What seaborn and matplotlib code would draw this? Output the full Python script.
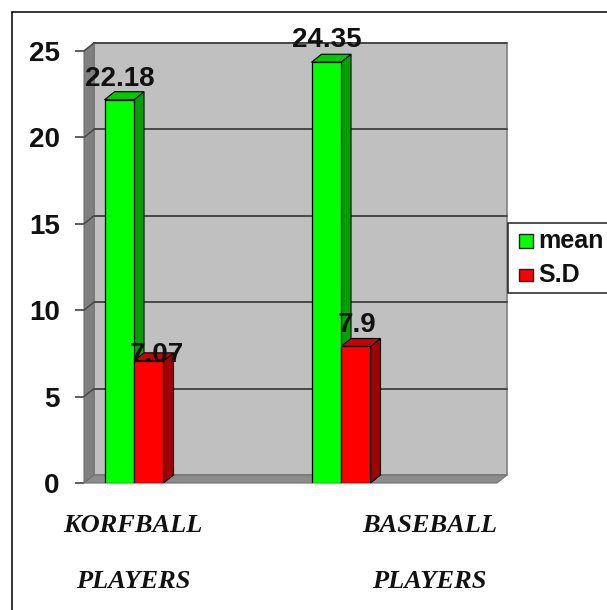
import matplotlib
matplotlib.use("Agg")
import matplotlib.pyplot as plt
from matplotlib.lines import Line2D
from matplotlib.patches import Polygon, Rectangle
from matplotlib.transforms import ScaledTranslation
import pandas as pd
import seaborn as sns

groups = ["KORFBALL", "BASEBALL"]
mean_values = [22.18, 24.35]
sd_values = [7.07, 7.9]
mean_labels = ["22.18", "24.35"]
sd_labels = ["7.07", "7.9"]
y_ticks = [0, 5, 10, 15, 20, 25]

W, H = 607, 610
DEPTH_X, DEPTH_Y = 10, 8
FILL = {"mean": "#00ff00", "S.D": "#ff0000"}
SIDE = {"mean": "#00a000", "S.D": "#a00000"}
TOP = {"mean": "#00c800", "S.D": "#c80000"}
# Nudges (pixels) of the value labels away from the bar tops
LABEL_NUDGE = [(1, 8), (1, 9), (8, -7), (1, 8)]

sns.set_theme(style="white", rc={"font.family": ["Liberation Sans", "DejaVu Sans"]})
fig = plt.figure(figsize=(W / 100, H / 100), dpi=100)
ax = fig.add_axes([84 / W, 1 - 483 / H, (497 - 84) / W, (483 - 51) / H])

table = pd.DataFrame({
    "group": groups * 2,
    "series": ["mean"] * 2 + ["S.D"] * 2,
    "value": mean_values + sd_values,
})
sns.barplot(data=table, x="group", y="value", hue="series", palette=FILL,
            width=0.285, gap=0, dodge=True, legend=False, ax=ax,
            edgecolor="black", linewidth=0.9, saturation=1, zorder=5)

ax.set_xlim(-50 / 207, 363 / 207)
ax.set_ylim(0, 25)
ax.set_xlabel("")
ax.set_ylabel("")
ax.patch.set_alpha(0)
for spine in ax.spines.values():
    spine.set_visible(False)
ax.set_xticks([])
ax.set_yticks(y_ticks)
ax.set_yticklabels([str(t) for t in y_ticks], fontsize=20, fontweight="bold", color="#111111")
ax.tick_params(axis="y", length=6.5, width=1.1, color="#333333", pad=11, left=True)

px = 1 / 100
back = ax.transData + ScaledTranslation(DEPTH_X * px, DEPTH_Y * px, fig.dpi_scale_trans)
front = ax.transData
xmin, xmax = ax.get_xlim()


def add_face(points, color, edge, lw, z):
    # Each vertex is (x, y, on_back_plane), projected to display space
    xy = [(back if on_back else front).transform((x, y)) for x, y, on_back in points]
    ax.add_patch(Polygon(xy, closed=True, transform=None, facecolor=color,
                         edgecolor=edge, lw=lw, clip_on=False, zorder=z))


# Back wall, floor and left wall of the pseudo-3D box
ax.add_patch(Rectangle((xmin, 0), xmax - xmin, 25, transform=back, facecolor="#c0c0c0",
                       edgecolor="#808080", lw=1.2, clip_on=False, zorder=1))
add_face([(xmin, 0, False), (xmin, 25, False), (xmin, 25, True), (xmin, 0, True)],
         "#808080", "#707070", 0.8, 2)
add_face([(xmin, 0, False), (xmax, 0, False), (xmax, 0, True), (xmin, 0, True)],
         "#8c8c8c", "#707070", 0.8, 2)

# Gridlines on the back wall, joined to the ticks along the left wall
for t in y_ticks[1:]:
    ax.plot([xmin, xmax], [t, t], transform=back, color="#484848", lw=1.4, zorder=3, clip_on=False)
    a = front.transform((xmin, t))
    b = back.transform((xmin, t))
    ax.plot([a[0], b[0]], [a[1], b[1]], transform=None, color="#484848", lw=1.1, zorder=3, clip_on=False)

# Side and top faces for each bar, extruded from the seaborn rectangles
bars = [b for b in ax.patches if b.get_zorder() == 5 and b.get_height() > 0]
series_names = ["mean"] * 2 + ["S.D"] * 2
all_labels = mean_labels + sd_labels
for bar, name, label, nudge in zip(bars, series_names, all_labels, LABEL_NUDGE):
    x0, x1 = bar.get_x(), bar.get_x() + bar.get_width()
    top = bar.get_height()
    z = 4 if name == "mean" else 4.5
    add_face([(x1, 0, False), (x1, top, False), (x1, top, True), (x1, 0, True)], SIDE[name], "black", 0.8, z)
    add_face([(x0, top, False), (x1, top, False), (x1, top, True), (x0, top, True)], TOP[name], "black", 0.8, z)
    shift = ScaledTranslation(nudge[0] * px, nudge[1] * px, fig.dpi_scale_trans)
    ax.text((x0 + x1) / 2, top, label, transform=ax.transData + shift,
            ha="center", va="bottom", fontsize=20, fontweight="bold", color="#111111", zorder=8)


def fx(p):
    return p / W


def fy(p):
    return 1 - p / H


# Legend box
fig.add_artist(Rectangle((fx(508), fy(293)), 100 / W, 70 / H, transform=fig.transFigure,
                         facecolor="white", edgecolor="#222222", lw=1.1))
for name, y, side in (("mean", 240.5, 14), ("S.D", 275, 12)):
    fig.add_artist(Rectangle((fx(518.5), fy(y + side / 2)), 14 / W, side / H, transform=fig.transFigure,
                             facecolor=FILL[name], edgecolor="#222222", lw=1.0))
    fig.text(fx(538), fy(y), name, fontsize=18, fontweight="bold", va="center", ha="left", color="#111111")

# Two-line category captions in a hand-lettered style
for text, x, y in (("KORFBALL", 133, 526), ("PLAYERS", 133, 582), ("BASEBALL", 430, 526), ("PLAYERS", 429, 582)):
    fig.text(fx(x), fy(y), text, fontsize=19, family="Liberation Serif", style="italic",
             fontweight="bold", ha="center", va="center", color="#111111")

# Frame along the top and left edges only
fig.add_artist(Line2D([fx(11.5), fx(11.5)], [0, fy(11.5)], transform=fig.transFigure, color="black", lw=1.1))
fig.add_artist(Line2D([fx(11.5), 1], [fy(11.5), fy(11.5)], transform=fig.transFigure, color="black", lw=1.1))

fig.savefig("out.png", dpi=100)
